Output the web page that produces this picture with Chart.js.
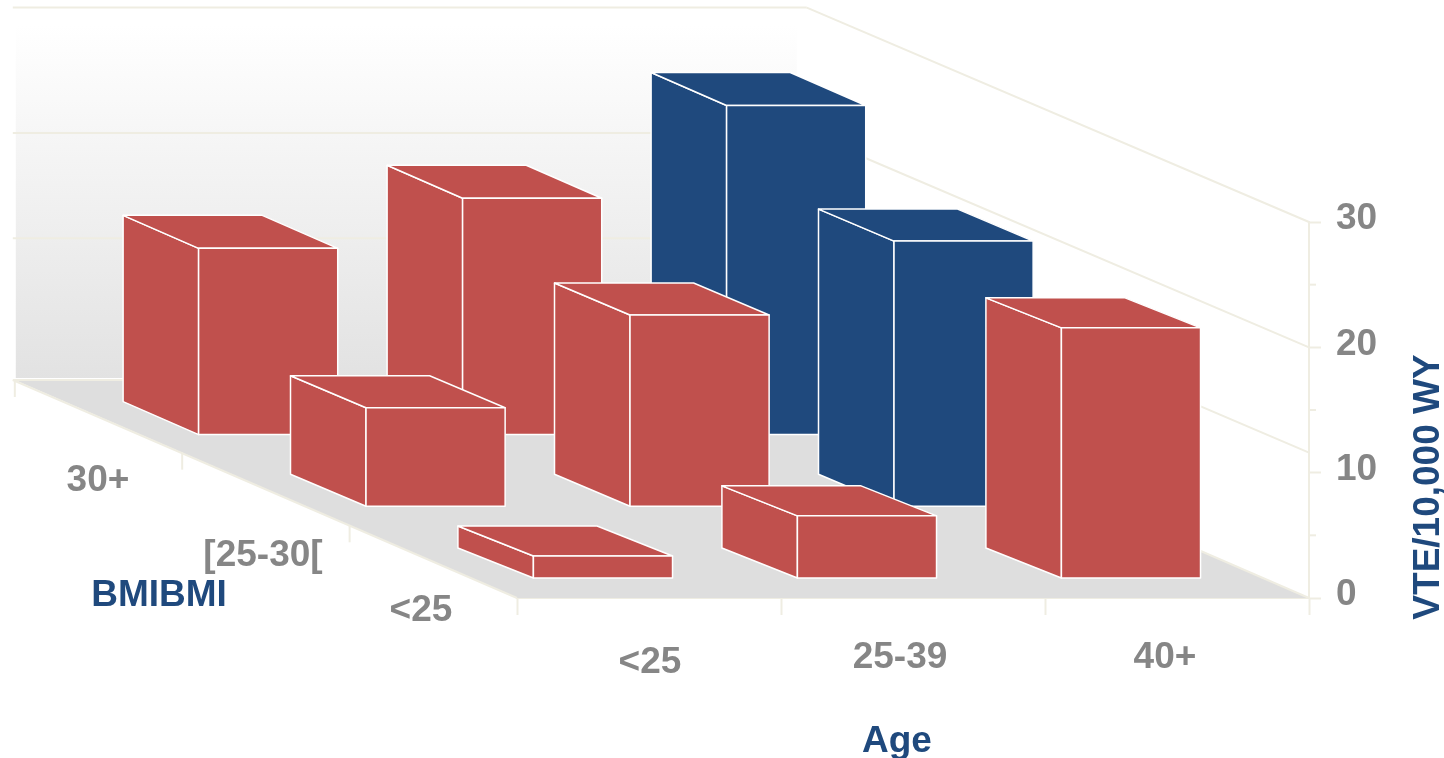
<!DOCTYPE html>
<html>
<head>
<meta charset="utf-8">
<style>
    html, body { margin: 0; padding: 0; background: #fff; }
    canvas { display: block; }
</style>
<script src="https://cdn.jsdelivr.net/npm/chart.js@4"></script>
</head>
<body>
<canvas id="chart" width="1444" height="758"></canvas>
<script>
const ageLabels = ['<25', '25-39', '40+'];
const bmiLabels = ['<25', '[25-30[', '30+'];

// VTE per 10,000 WY, one list per BMI row
const bmiUnder25 = [1.8, 5, 20];
const bmi25to30 = [7.9, 15.3, 21.2];
const bmiOver30 = [14.9, 18.9, 26.3];

const wallLineValues = [30, 20, 11.6];

const red = '#c0504d';
const blue = '#1f497d';
const axisColor = '#efede2';
const textGray = '#868686';
const fontBold = 'bold 37px "Liberation Sans"';

const rowColors = [
    [red, red, red],
    [red, red, blue],
    [red, red, blue]
];

// projection of one depth row on screen
const rowDx = -167.4;
const rowDy = -72.67;
const barRowDy = -71.7;
const barFrontDepth = 0.275;
const barFrontDy = -19.5;
const barDepthDx = -75.5;
const barDepthDy = [-30, -32, -33];

function drawPolygon(ctx, points, fill, stroke) {
    ctx.beginPath();
    points.forEach(function (p, i) {
        if (i == 0) ctx.moveTo(p[0], p[1]);
        else ctx.lineTo(p[0], p[1]);
    });
    ctx.closePath();
    if (fill) {
        ctx.fillStyle = fill;
        ctx.fill();
    }
    if (stroke) {
        ctx.strokeStyle = stroke;
        ctx.stroke();
    }
}

function drawLine(ctx, x1, y1, x2, y2) {
    ctx.beginPath();
    ctx.moveTo(x1, y1);
    ctx.lineTo(x2, y2);
    ctx.stroke();
}

function drawText(ctx, text, x, y, color) {
    ctx.font = fontBold;
    ctx.fillStyle = color;
    ctx.textAlign = 'center';
    ctx.textBaseline = 'alphabetic';
    ctx.fillText(text, x, y);
}

const box3d = {
    id: 'box3d',

    beforeDatasetsDraw: function (chart) {
        const ctx = chart.ctx;
        const area = chart.chartArea;
        const yScale = chart.scales.y;
        const backDx = rowDx * 3;
        const backDy = rowDy * 3;
        const y0 = yScale.getPixelForValue(0);

        ctx.save();

        // back wall
        const wall = ctx.createLinearGradient(0, 25, 0, y0 + backDy);
        wall.addColorStop(0, '#ffffff');
        wall.addColorStop(1, '#e2e2e2');
        ctx.fillStyle = wall;
        ctx.fillRect(area.left + backDx + 1, 10, area.width - 11, y0 + backDy - 12);

        // floor
        drawPolygon(ctx, [
            [area.left, y0],
            [area.right, y0],
            [area.right + backDx, y0 + backDy],
            [area.left + backDx, y0 + backDy]
        ], '#dedede');

        ctx.strokeStyle = axisColor;
        ctx.lineWidth = 2;

        // lines running along the wall and the right side
        wallLineValues.forEach(function (v) {
            const y = yScale.getPixelForValue(v);
            const wallY = y + rowDy * 2.95;
            drawLine(ctx, area.left + backDx - 2, wallY, area.right + backDx, wallY);
            drawLine(ctx, area.right + backDx, wallY, area.right, y);
        });

        // floor edges and depth ticks
        drawLine(ctx, area.left + backDx - 2, y0 + backDy, area.left, y0);
        drawLine(ctx, area.left + backDx - 2, y0 + backDy, area.left + backDx + 110, y0 + backDy);
        drawLine(ctx, area.right + backDx, y0 + backDy, area.right, y0);
        for (let i = 1; i <= 3; i++) {
            const x = area.left + rowDx * i;
            const y = y0 + rowDy * i;
            drawLine(ctx, x, y, x, y + 17);
        }

        // short ticks between the numbered ones
        yScale.ticks.forEach(function (t) {
            if (t.value % 10 != 0) {
                const y = yScale.getPixelForValue(t.value);
                drawLine(ctx, area.right, y, area.right + 7, y);
            }
        });

        ctx.restore();
    },

    beforeDatasetDraw: function (chart, args) {
        const ctx = chart.ctx;
        const row = args.index;
        const dx = rowDx * (row + barFrontDepth);
        const dy = barFrontDy + barRowDy * row;
        const depthDy = barDepthDy[row];

        ctx.save();
        ctx.lineWidth = 1.5;
        ctx.lineJoin = 'round';

        args.meta.data.forEach(function (bar, i) {
            const p = bar.getProps(['x', 'y', 'base', 'width'], true);
            const left = p.x - p.width / 2 + dx;
            const right = p.x + p.width / 2 + dx;
            const top = p.y + dy;
            const base = p.base + dy;
            const color = chart.data.datasets[row].backgroundColor[i];

            drawPolygon(ctx, [
                [left, top],
                [left + barDepthDx, top + depthDy],
                [left + barDepthDx, base + depthDy],
                [left, base]
            ], color, '#ffffff');
            drawPolygon(ctx, [
                [left, top],
                [right, top],
                [right + barDepthDx, top + depthDy],
                [left + barDepthDx, top + depthDy]
            ], color, '#ffffff');
            drawPolygon(ctx, [
                [left, top],
                [right, top],
                [right, base],
                [left, base]
            ], color, '#ffffff');
        });

        ctx.restore();
        return false;
    },

    afterDatasetsDraw: function (chart) {
        const ctx = chart.ctx;
        const xScale = chart.scales.x;

        ctx.save();

        // the labels in the reference do not sit on their tick centres
        const ageNudge = [[1, 673], [-13, 668], [-12, 668]];
        ageLabels.forEach(function (label, i) {
            drawText(ctx, label, xScale.getPixelForTick(i) + ageNudge[i][0], ageNudge[i][1], textGray);
        });

        drawText(ctx, bmiLabels[2], 98, 491, textGray);
        drawText(ctx, bmiLabels[1], 263, 566, textGray);
        drawText(ctx, bmiLabels[0], 421, 621, textGray);

        drawText(ctx, 'BMIBMI', 159, 606, blue);
        drawText(ctx, 'Age', 897, 752, blue);

        ctx.translate(1439, 487);
        ctx.rotate(-Math.PI / 2);
        drawText(ctx, 'VTE/10,000 WY', 0, 0, blue);

        ctx.restore();
    }
};

const data = {
    labels: ageLabels,
    datasets: [
        { label: bmiLabels[0], data: bmiUnder25, backgroundColor: rowColors[0] },
        { label: bmiLabels[1], data: bmi25to30, backgroundColor: rowColors[1] },
        { label: bmiLabels[2], data: bmiOver30, backgroundColor: rowColors[2] }
    ]
};

const config = {
    type: 'bar',
    data: data,
    options: {
        responsive: false,
        animation: false,
        grouped: false,
        categoryPercentage: 1,
        barPercentage: 0.527,
        layout: {
            padding: { left: 517, top: 222, right: 0, bottom: 0 }
        },
        plugins: {
            legend: { display: false },
            tooltip: { enabled: false }
        },
        scales: {
            x: {
                z: 1,
                ticks: { display: false },
                border: { color: axisColor, width: 2 },
                grid: {
                    drawOnChartArea: false,
                    tickLength: 17,
                    tickWidth: 2,
                    tickColor: axisColor
                },
                afterFit: function (scale) {
                    scale.height = 160;
                }
            },
            y: {
                z: 1,
                position: 'right',
                min: 0,
                max: 30,
                ticks: {
                    stepSize: 5,
                    padding: 15,
                    labelOffset: -3,
                    color: textGray,
                    font: { family: 'Liberation Sans', size: 37, weight: 'bold' },
                    callback: function (value) {
                        return value % 10 == 0 ? value : '';
                    }
                },
                border: { color: axisColor, width: 2 },
                grid: {
                    drawOnChartArea: false,
                    tickLength: 12,
                    tickWidth: 2,
                    tickColor: function (context) {
                        return context.tick.value % 10 == 0 ? axisColor : 'rgba(0, 0, 0, 0)';
                    }
                },
                afterFit: function (scale) {
                    scale.width = 135;
                }
            }
        }
    },
    plugins: [box3d]
};

let chart = new Chart(document.getElementById('chart'), config);
</script>
</body>
</html>
